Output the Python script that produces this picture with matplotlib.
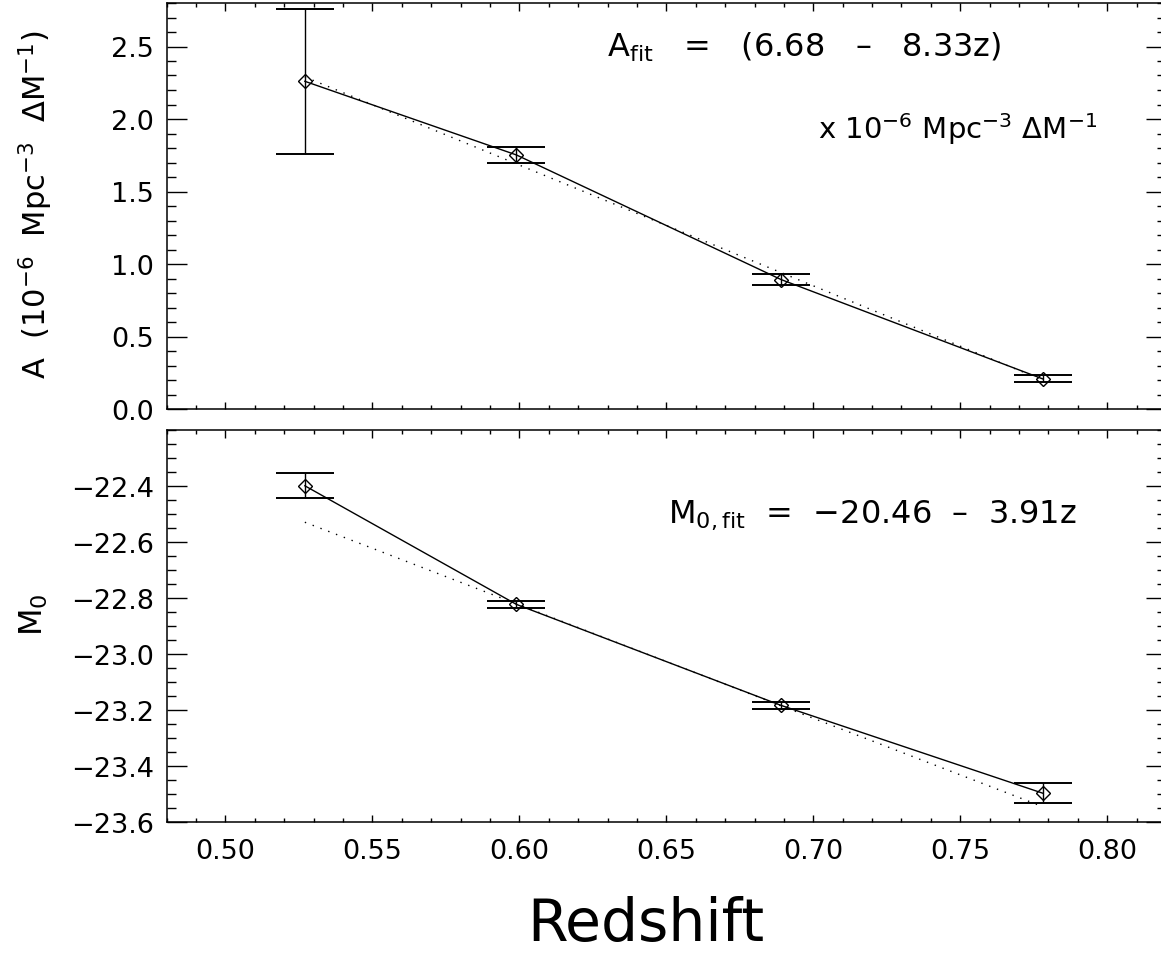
import matplotlib
matplotlib.use('Agg')
import matplotlib.pyplot as plt
from matplotlib.ticker import MultipleLocator

plt.rcParams['font.family'] = ['DejaVu Sans']
plt.rcParams['mathtext.default'] = 'regular'

# ---- data ----
redshift = [0.527, 0.599, 0.689, 0.778]
A_vals = [2.26, 1.752, 0.893, 0.208]
A_err = [0.50, 0.057, 0.037, 0.025]
M0_vals = [-22.40, -22.823, -23.183, -23.496]
M0_err = [0.045, 0.013, 0.013, 0.036]

A_fit_z = [0.527, 0.778]
A_fit_vals = [2.29, 0.20]
M0_fit_z = [0.527, 0.777]
M0_fit_vals = [-22.53, -23.54]

x_ticks = [0.50, 0.55, 0.60, 0.65, 0.70, 0.75, 0.80]
A_ticks = [0.0, 0.5, 1.0, 1.5, 2.0, 2.5]
M0_ticks = [-22.4, -22.6, -22.8, -23.0, -23.2, -23.4, -23.6]

W, H = 1161, 962
fig = plt.figure(figsize=(W / 100, H / 100), dpi=100)

def frac_axes(x0, y0, x1, y1):
    return fig.add_axes([x0 / W, 1 - y1 / H, (x1 - x0) / W, (y1 - y0) / H])

ax1 = frac_axes(166.7, 4, 1166, 410)
ax2 = frac_axes(166.7, 430.7, 1166, 823.3)

tick_fs = 19.5
dotted = (0, (1, 5))

def draw(ax, vals, errs, fz, fv):
    ax.errorbar(redshift, vals, yerr=errs, fmt='none', ecolor='black',
                elinewidth=1.0, capsize=21, capthick=1.4)
    ax.plot(redshift, vals, '-', color='black', lw=1.0)
    ax.plot(fz, fv, color='black', lw=1.0, ls=dotted)
    ax.plot(redshift, vals, 'D', ms=7, mfc='none', mec='black', mew=1.0)
    ax.set_xlim(0.48, 0.82)
    ax.set_xticks(x_ticks)
    ax.xaxis.set_minor_locator(MultipleLocator(0.01))
    ax.tick_params(which='both', direction='in', top=True, right=True,
                   width=1.0, labelsize=tick_fs)
    ax.tick_params(axis='y', which='major', length=14.5, pad=9)
    ax.tick_params(axis='y', which='minor', length=6.8)
    ax.tick_params(axis='x', which='major', length=5.4, pad=11)
    ax.tick_params(axis='x', which='minor', length=2.9)
    for s in ax.spines.values():
        s.set_linewidth(1.1)

draw(ax1, A_vals, A_err, A_fit_z, A_fit_vals)
ax1.set_ylim(0.0, 2.8)
ax1.set_yticks(A_ticks)
ax1.set_yticklabels(['%.1f' % v for v in A_ticks])
ax1.yaxis.set_minor_locator(MultipleLocator(0.1))
ax1.tick_params(axis='x', labelbottom=False)

draw(ax2, M0_vals, M0_err, M0_fit_z, M0_fit_vals)
ax2.set_ylim(-23.6, -22.2)
ax2.set_yticks(M0_ticks)
ax2.set_yticklabels(['\u2212%.1f' % abs(v) for v in M0_ticks])
ax2.yaxis.set_minor_locator(MultipleLocator(0.05))
ax2.set_xticklabels(['%.2f' % v for v in x_ticks])

# axis labels
fig.text(36 / W, 1 - 205 / H, 'A  (10$^{-6}$  Mpc$^{-3}$  $\\Delta$M$^{-1}$)',
         rotation=90, ha='center', va='center', fontsize=22)
fig.text(34 / W, 1 - 615 / H, 'M$_0$', rotation=90, ha='center',
         va='center', fontsize=23)
fig.text(646 / W, 1 - 925 / H, 'Redshift', ha='center', va='center',
         fontsize=42)

# annotations
fig.text(607 / W, 1 - 47 / H, 'A$_{fit}$   =   (6.68   \u2013   8.33z)',
         ha='left', va='center', fontsize=23)
fig.text(1097 / W, 1 - 129 / H,
         'x 10$^{-6}$ Mpc$^{-3}$ $\\Delta$M$^{-1}$',
         ha='right', va='center', fontsize=21)
fig.text(668 / W, 1 - 515 / H, 'M$_{0,fit}$  =  \u221220.46  \u2013  3.91z',
         ha='left', va='center', fontsize=23)

fig.savefig('out.png', dpi=100)
